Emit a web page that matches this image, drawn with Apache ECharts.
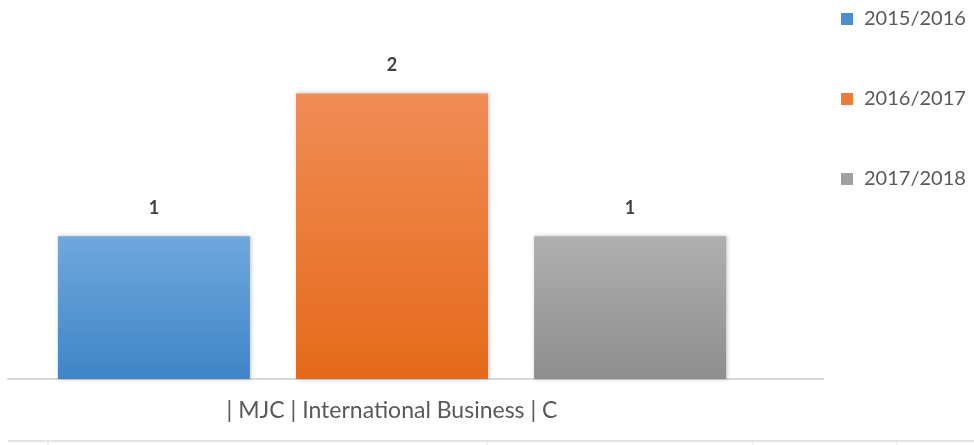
<!DOCTYPE html>
<html>
<head>
<meta charset="utf-8">
<script src="https://cdn.jsdelivr.net/npm/echarts@6/dist/echarts.min.js"></script>
<style>html,body{margin:0;padding:0;background:#fff;}#c{width:974px;height:445px;}</style>
</head>
<body>
<div id="c"></div>
<script>
var categories = ['| MJC | International Business | C'];
var seriesNames = ['2015/2016', '2016/2017', '2017/2018'];
var values2015 = [1];
var values2016 = [2];
var values2017 = [1];

var FONT = 'Lato, "Open Sans", sans-serif';
function grad(top, bottom) {
  return new echarts.graphic.LinearGradient(0, 0, 0, 1, [
    {offset: 0, color: top}, {offset: 1, color: bottom}
  ]);
}
var colors = [
  grad('#70a7dd', '#3e85c7'),
  grad('#f18c56', '#e46a19'),
  grad('#afafaf', '#8e8e8e')
];
var legendColors = ['#4a8fd2', '#ee7a35', '#a0a0a0'];
var dataSets = [values2015, values2016, values2017];

var chart = echarts.init(document.getElementById('c'));
var series = seriesNames.map(function (n, i) {
  return {
    name: n,
    type: 'bar',
    xAxisIndex: 0, yAxisIndex: 0,
    data: dataSets[i],
    barWidth: 192,
    barGap: '24%',
    itemStyle: {color: colors[i], shadowColor: 'rgba(0,0,0,0.25)', shadowBlur: 4, shadowOffsetX: 1, shadowOffsetY: 0},
    label: {show: true, position: 'top', distance: 19, color: '#404040', fontWeight: 'bold', fontSize: 18, fontFamily: FONT}
  };
});

chart.setOption({
  animation: false,
  backgroundColor: '#fff',
  grid: [
    {left: 8, right: 198, top: 22, bottom: 66},
    {left: 8, right: 151, top: 22, bottom: 66}
  ],
  xAxis: [
    {type: 'category', gridIndex: 0, data: categories,
     axisLine: {show: false}, axisTick: {show: false},
     axisLabel: {color: '#595959', fontSize: 23, fontFamily: FONT, margin: 20}},
    {type: 'category', gridIndex: 1, data: [''],
     axisLine: {show: true, lineStyle: {color: '#d9d9d9', width: 2}}, axisTick: {show: false},
     axisLabel: {show: false}}
  ],
  yAxis: [
    {type: 'value', gridIndex: 0, min: 0, max: 2.5, show: false, splitLine: {show: false}},
    {type: 'value', gridIndex: 1, min: 0, max: 2.5, show: false, splitLine: {show: false}}
  ],
  legend: {
    orient: 'vertical',
    left: 836, top: 4,
    itemWidth: 12, itemHeight: 12, itemGap: 60,
    icon: 'rect',
    data: seriesNames.map(function (n, i) { return {name: n, itemStyle: {color: legendColors[i]}}; }),
    textStyle: {color: '#595959', fontSize: 20, fontFamily: FONT, padding: [0, 0, 0, 6]}
  },
  graphic: [
    {type: 'line', shape: {x1: 8, y1: 441, x2: 974, y2: 441}, style: {stroke: '#e3e3e3', lineWidth: 2}},
    {type: 'line', shape: {x1: 48, y1: 441, x2: 48, y2: 445}, style: {stroke: '#e3e3e3', lineWidth: 1}},
    {type: 'line', shape: {x1: 487, y1: 441, x2: 487, y2: 445}, style: {stroke: '#e3e3e3', lineWidth: 1}},
    {type: 'line', shape: {x1: 753, y1: 441, x2: 753, y2: 445}, style: {stroke: '#e3e3e3', lineWidth: 1}},
    {type: 'line', shape: {x1: 897, y1: 441, x2: 897, y2: 445}, style: {stroke: '#e3e3e3', lineWidth: 1}}
  ],
  series: series
});
</script>
</body>
</html>
